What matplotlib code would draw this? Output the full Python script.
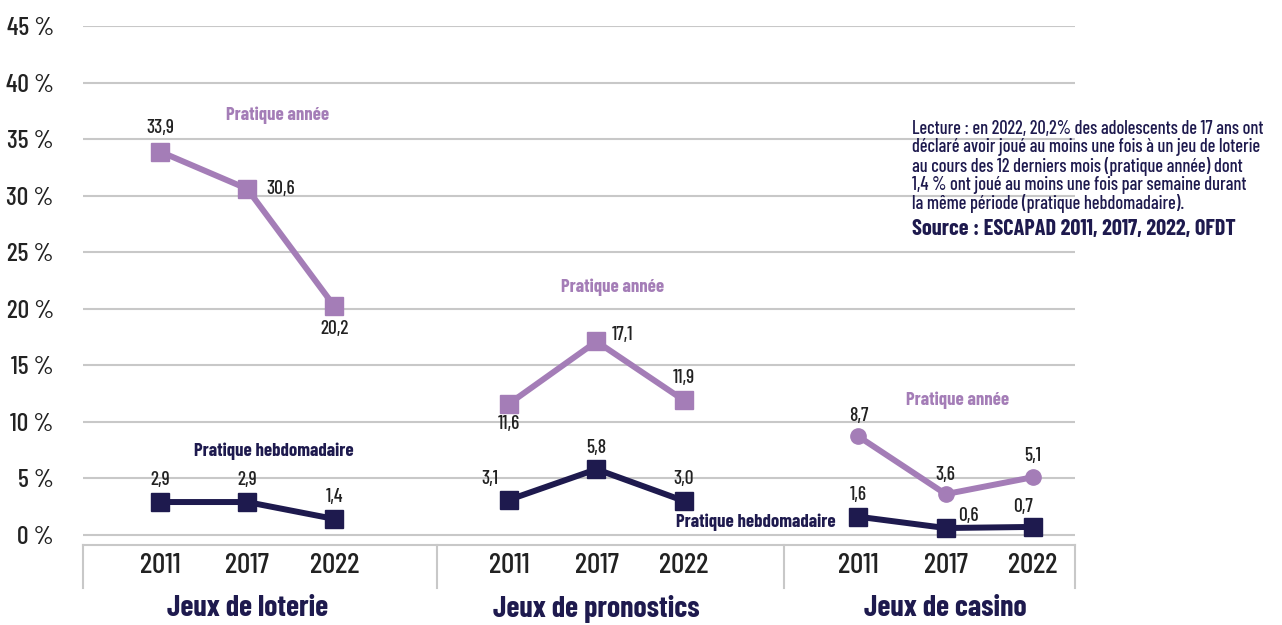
import matplotlib.pyplot as plt
from matplotlib import font_manager

years = ['2011', '2017', '2022']
games = ['Jeux de loterie', 'Jeux de pronostics', 'Jeux de casino']

# pratique année (% des 17 ans)
annee_loterie = [33.9, 30.6, 20.2]
annee_pronostics = [11.6, 17.1, 11.9]
annee_casino = [8.7, 3.6, 5.1]

# pratique hebdomadaire
hebdo_loterie = [2.9, 2.9, 1.4]
hebdo_pronostics = [3.1, 5.8, 3.0]
hebdo_casino = [1.6, 0.6, 0.7]

y_ticks = [0, 5, 10, 15, 20, 25, 30, 35, 40, 45]

note = ("Lecture : en 2022, 20,2% des adolescents de 17 ans ont\n"
        "déclaré avoir joué au moins une fois à un jeu de loterie\n"
        "au cours des 12 derniers mois (pratique année) dont\n"
        "1,4 % ont joué au moins une fois par semaine durant\n"
        "la même période (pratique hebdomadaire).")
source = "Source : ESCAPAD 2011, 2017, 2022, OFDT"

LIGHT = '#a47db7'
DARK = '#1e1a4e'
TXT = '#222222'
GRID = '#c8c8c8'

# a condensed face close to the original DIN-like font
installed = {f.name for f in font_manager.fontManager.ttflist}
for cand in ['Barlow Condensed', 'Roboto Condensed', 'IBM Plex Sans Condensed',
             'DejaVu Sans']:
    if cand in installed:
        FONT = cand
        break
plt.rcParams['font.family'] = [FONT, 'DejaVu Sans']
plt.rcParams['font.weight'] = 'medium'

W, H = 1282, 625
fig = plt.figure(figsize=(W / 100, H / 100), dpi=100)
ax = fig.add_axes([83 / W, 1 - 545 / H, (1075 - 83) / W, (545 - 26) / H])

annee = [annee_loterie, annee_pronostics, annee_casino]
hebdo = [hebdo_loterie, hebdo_pronostics, hebdo_casino]
markers_annee = ['s', 's', 'o']

# label offsets (points) for each value, per group
off_annee = [[(0, 17), (24, 0), (0, -16)],
             [(0, -15), (19, 5), (0, 16)],
             [(0, 15), (0, 14), (0, 15)]]
off_hebdo = [[(0, 16), (0, 16), (0, 16)],
             [(-14, 15), (0, 15), (0, 16)],
             [(0, 16), (16, 9), (-7, 14)]]

for g in range(3):
    xs = [g * 4 + i for i in range(3)]
    ax.plot(xs, annee[g], color=LIGHT, lw=4.3, marker=markers_annee[g],
            ms=12.5 if markers_annee[g] == 's' else 11, zorder=3)
    ax.plot(xs, hebdo[g], color=DARK, lw=4.3, marker='s', ms=12.5, zorder=3)
    for i, x in enumerate(xs):
        ax.annotate(f'{annee[g][i]:.1f}'.replace('.', ','), (x, annee[g][i]),
                    xytext=off_annee[g][i], textcoords='offset points',
                    ha='center', va='center', fontsize=14, color=TXT)
        ax.annotate(f'{hebdo[g][i]:.1f}'.replace('.', ','), (x, hebdo[g][i]),
                    xytext=off_hebdo[g][i], textcoords='offset points',
                    ha='center', va='center', fontsize=14, color=TXT)

# series names
for x, y in [(1.35, 37.1), (5.19, 21.9), (9.13, 11.9)]:
    ax.text(x, y, 'Pratique année', color=LIGHT, fontsize=13.5,
            fontweight='bold', ha='center', va='center')
for x, y in [(1.3, 7.4), (6.83, 1.1)]:
    ax.text(x, y, 'Pratique hebdomadaire', color=DARK, fontsize=13.5,
            fontweight='bold', ha='center', va='center')

ax.set_xlim(-0.88, 10.48)
ax.set_ylim(-0.9, 45)
ax.set_yticks(y_ticks)
ax.set_yticklabels([f'{v} %' for v in y_ticks], fontsize=18.5, color=TXT)
ax.set_xticks([])
ax.yaxis.grid(True, color=GRID, lw=1.5)
ax.set_axisbelow(True)
ax.tick_params(axis='y', length=0, pad=21)
for s in ['top', 'right', 'left']:
    ax.spines[s].set_visible(False)
ax.spines['bottom'].set_color(GRID)
ax.spines['bottom'].set_linewidth(1.5)

# year labels and group names below the axis
for g in range(3):
    for i in range(3):
        xpix = 160 + (g * 4 + i) * 87.3
        fig.text(xpix / W, 1 - 566 / H, years[i], ha='center',
                 va='center', fontsize=21, color=TXT)
    fig.text((160 + (g * 4 + 1) * 87.3) / W, 1 - 609 / H, games[g],
             ha='center', va='center', fontsize=21.5, fontweight='bold',
             color=DARK)

# group separators
for xp in [83, 437, 784, 1075]:
    fig.add_artist(plt.Line2D([xp / W, xp / W], [1 - 545 / H, 1 - 588 / H],
                              color=GRID, lw=1.5))

fig.text(912 / W, 1 - 120 / H, note, ha='left', va='top',
         fontsize=13.2, color=DARK, linespacing=1.02)
fig.text(912 / W, 1 - 229 / H, source, ha='left', va='center',
         fontsize=16, fontweight='bold', color=DARK)

plt.savefig('out.png', dpi=100)
plt.close()
